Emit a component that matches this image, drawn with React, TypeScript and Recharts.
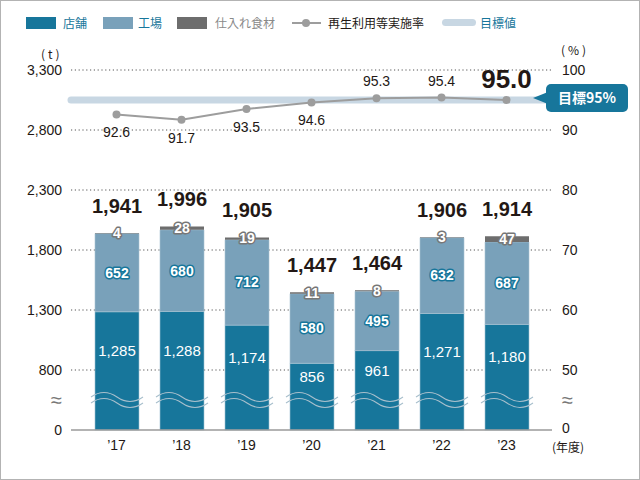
import React from "react";
import {
  ComposedChart,
  Bar,
  Line,
  XAxis,
  YAxis,
  CartesianGrid,
  ReferenceLine,
  LabelList,
} from "recharts";

const years = ["’17", "’18", "’19", "’20", "’21", "’22", "’23"];
const storeTons = [1285, 1288, 1174, 856, 961, 1271, 1180];
const factoryTons = [652, 680, 712, 580, 495, 632, 687];
const purchasedTons = [4, 28, 19, 11, 8, 3, 47];
const totalTons = [1941, 1996, 1905, 1447, 1464, 1906, 1914];
const recycleRate = [92.6, 91.7, 93.5, 94.6, 95.3, 95.4, 95.0];
const targetRate = 95;
const leftTicks = [0, 800, 1300, 1800, 2300, 2800, 3300];
const rightTicks = [0, 50, 60, 70, 80, 90, 100];

// axis break: 0-800 t and 0-50 % are squeezed into one grid step
const TON_SHIFT = 300;
const toTonAxis = (v: number) => (v === 0 ? 0 : v - TON_SHIFT);
const toRateAxis = (v: number) => (v === 0 ? 40 : v);
const TON_BREAK = 250;
const RATE_BREAK = 45;

const TEAL = "#17769b";
const FACTORY = "#79a1ba";
const PURCHASED = "#6d6d6d";
const LINE_GRAY = "#9d9d9d";
const TARGET = "#c8d7e3";
const INK = "#231815";
const FONT = "'Liberation Sans', Arial, 'Noto Sans CJK JP', sans-serif";
const JP = "'Noto Sans CJK JP', sans-serif";

const data = years.map((year, i) => ({
  year,
  store: toTonAxis(storeTons[i]),
  storeValue: storeTons[i],
  factory: factoryTons[i],
  purchased: purchasedTons[i],
  total: totalTons[i],
  rate: recycleRate[i],
}));

function StoreShape(props: any) {
  const { x, y, width, height, fill } = props;
  const bottom = y + height;
  const x0 = x - 4;
  const w = width + 8;
  return (
    <g>
      <rect x={x} y={y} width={width} height={height} fill={fill} stroke="#9fc1d3" strokeWidth={0.6} />
      {[bottom - 33, bottom - 27].map((wy) => (
        <path
          key={wy}
          d={`M${x0},${wy} Q${x0 + w / 4},${wy - 9} ${x0 + w / 2},${wy} T${x0 + w},${wy}`}
          fill="none"
          stroke="#a7bfcc"
          strokeWidth={1.1}
        />
      ))}
    </g>
  );
}

function StoreLabel(props: any) {
  const { x, y, width, value } = props;
  const cy = (y + 390) / 2;
  return (
    <text x={x + width / 2} y={cy} dy="0.35em" textAnchor="middle" fill="#fff" fontSize={15} fontFamily={FONT}>
      {Number(value).toLocaleString("en-US")}
    </text>
  );
}

function outlined(color: string) {
  return function OutlinedLabel(props: any) {
    const { x, y, width, height, value } = props;
    return (
      <text
        x={x + width / 2}
        y={y + height / 2}
        dy="0.35em"
        textAnchor="middle"
        fill="#fff"
        stroke={color}
        strokeWidth={3}
        strokeLinejoin="round"
        paintOrder="stroke"
        fontSize={14}
        fontWeight="bold"
        fontFamily={FONT}
      >
        {value}
      </text>
    );
  };
}

function TotalLabel(props: any) {
  const { x, y, width, value } = props;
  return (
    <text x={x + width / 2} y={y - 27} dy="0.35em" textAnchor="middle" fill={INK} fontSize={20} fontWeight="bold" fontFamily={FONT}>
      {Number(value).toLocaleString("en-US")}
    </text>
  );
}

function RateLabel(props: any) {
  const { x, y, value, index } = props;
  const last = index === recycleRate.length - 1;
  const above = value >= targetRate;
  const cy = last ? y - 21 : above ? y - 17 : y + 18;
  return (
    <text
      x={x}
      y={cy}
      dy="0.35em"
      textAnchor="middle"
      fill={INK}
      fontSize={last ? 26 : 14}
      fontWeight={last ? "bold" : "normal"}
      fontFamily={FONT}
    >
      {Number(value).toFixed(1)}
    </text>
  );
}

function TargetBadge(props: any) {
  const { viewBox } = props;
  const right = viewBox.x + viewBox.width;
  const cy = viewBox.y - 2;
  const bx = right - 6;
  return (
    <g>
      <path d={`M${right - 19},${cy} L${bx + 2},${cy - 6} L${bx + 2},${cy + 6} Z`} fill={TEAL} />
      <rect x={bx} y={cy - 14} width={82} height={28} rx={5} fill={TEAL} />
      <text x={bx + 41} y={cy} dy="0.35em" textAnchor="middle" fill="#fff" fontSize={14} fontWeight="bold" fontFamily={JP}>
        目標95%
      </text>
    </g>
  );
}

function LeftTick(props: any) {
  const { x, y, payload } = props;
  const v = payload.value;
  const isBreak = v === TON_BREAK;
  const label = isBreak ? "≈" : (v === 0 ? 0 : v + TON_SHIFT).toLocaleString("en-US");
  return (
    <text x={x} y={y} dy="0.35em" textAnchor="end" fill={isBreak ? "#777" : INK} fontSize={isBreak ? 20 : 14} fontFamily={FONT}>
      {label}
    </text>
  );
}

function RightTick(props: any) {
  const { x, y, payload } = props;
  const v = payload.value;
  const isBreak = v === RATE_BREAK;
  const label = isBreak ? "≈" : v === 40 ? "0" : String(v);
  return (
    <text x={x} y={v === 40 ? y - 2 : y} dy="0.35em" textAnchor="start" fill={isBreak ? "#777" : INK} fontSize={isBreak ? 20 : 14} fontFamily={FONT}>
      {label}
    </text>
  );
}

function YearTick(props: any) {
  const { x, y, payload } = props;
  return (
    <text x={x} y={y + 13} dy="0.35em" textAnchor="middle" fill={INK} fontSize={14} fontFamily={FONT}>
      {payload.value}
    </text>
  );
}

const legendText = (color: string): React.CSSProperties => ({
  position: "absolute",
  top: 13,
  fontSize: 12,
  color,
  fontFamily: JP,
  lineHeight: "18px",
  whiteSpace: "nowrap",
});

export default function App() {
  const tonTicks = [0, TON_BREAK, ...leftTicks.slice(1).map(toTonAxis)];
  const rateTicks = [40, RATE_BREAK, ...rightTicks.slice(1).map(toRateAxis)];
  const gridValues = leftTicks.slice(1).map(toTonAxis);

  return (
    <div
      style={{
        position: "absolute",
        left: 0,
        top: 0,
        width: 640,
        height: 480,
        border: "1px solid #b3b3b3",
        boxSizing: "border-box",
        background: "#fff",
        fontFamily: FONT,
      }}
    >
      <div style={{ position: "absolute", left: 25, top: 16, width: 30, height: 12, background: TEAL }} />
      <div style={{ ...legendText(TEAL), left: 62 }}>店舗</div>
      <div style={{ position: "absolute", left: 102, top: 16, width: 30, height: 12, background: FACTORY }} />
      <div style={{ ...legendText(TEAL), left: 137 }}>工場</div>
      <div style={{ position: "absolute", left: 176, top: 16, width: 30, height: 12, background: PURCHASED }} />
      <div style={{ ...legendText("#8a8a8a"), left: 214 }}>仕入れ食材</div>
      <div style={{ position: "absolute", left: 291, top: 21, width: 29, height: 2, background: LINE_GRAY }} />
      <div style={{ position: "absolute", left: 301, top: 18, width: 8, height: 8, borderRadius: 4, background: LINE_GRAY }} />
      <div style={{ ...legendText(INK), left: 327 }}>再生利用等実施率</div>
      <div style={{ position: "absolute", left: 441, top: 18, width: 34, height: 7, borderRadius: 4, background: TARGET }} />
      <div style={{ ...legendText(TEAL), left: 479 }}>目標値</div>

      <div style={{ position: "absolute", left: 40, top: 44, fontSize: 12, color: INK, fontFamily: JP, letterSpacing: 3 }}>(t)</div>
      <div style={{ position: "absolute", left: 560, top: 40, fontSize: 12, color: INK, fontFamily: JP, letterSpacing: 3 }}>(%)</div>
      <div style={{ position: "absolute", left: 551, top: 439, fontSize: 12, lineHeight: "13px", color: INK, fontFamily: JP }}>(年度)</div>

      <ComposedChart
        width={640}
        height={480}
        data={data}
        margin={{ top: 70, right: 0, bottom: 0, left: 0 }}
        style={{ position: "absolute", left: -1, top: -1 }}
      >
        <CartesianGrid
          vertical={false}
          horizontalValues={gridValues}
          stroke="#555"
          strokeDasharray="1.2 2.6"
          yAxisId="tons"
        />
        <XAxis
          dataKey="year"
          height={50}
          padding={{ left: 13, right: 13 }}
          axisLine={{ stroke: "#9a9a9a", strokeWidth: 1.5 }}
          tickLine={false}
          tickSize={0}
          tick={<YearTick />}
        />
        <YAxis
          yAxisId="tons"
          width={71}
          domain={[0, 3000]}
          ticks={tonTicks}
          interval={0}
          axisLine={false}
          tickLine={false}
          tickSize={0}
          tickMargin={9}
          tick={<LeftTick />}
        />
        <YAxis
          yAxisId="rate"
          orientation="right"
          width={88}
          domain={[40, 100]}
          ticks={rateTicks}
          interval={0}
          axisLine={false}
          tickLine={false}
          tickSize={0}
          tickMargin={10}
          tick={<RightTick />}
        />
        <Bar yAxisId="tons" dataKey="store" stackId="t" fill={TEAL} barSize={44} shape={<StoreShape />} isAnimationActive={false}>
          <LabelList dataKey="storeValue" content={<StoreLabel />} />
        </Bar>
        <Bar yAxisId="tons" dataKey="factory" stackId="t" fill={FACTORY} barSize={44} stroke="#a9c4d4" strokeWidth={0.6} isAnimationActive={false}>
          <LabelList dataKey="factory" content={outlined(TEAL)} />
        </Bar>
        <Bar yAxisId="tons" dataKey="purchased" stackId="t" fill={PURCHASED} barSize={44} isAnimationActive={false}>
          <LabelList dataKey="purchased" content={outlined("#777")} />
          <LabelList dataKey="total" content={<TotalLabel />} />
        </Bar>
        <ReferenceLine
          yAxisId="rate"
          y={targetRate}
          stroke={TARGET}
          strokeWidth={7}
          strokeLinecap="round"
          label={<TargetBadge />}
        />
        <Line
          yAxisId="rate"
          dataKey="rate"
          stroke={LINE_GRAY}
          strokeWidth={2}
          dot={{ r: 4, fill: LINE_GRAY, stroke: LINE_GRAY, strokeWidth: 0 }}
          isAnimationActive={false}
        >
          <LabelList dataKey="rate" content={<RateLabel />} />
        </Line>
      </ComposedChart>
    </div>
  );
}
